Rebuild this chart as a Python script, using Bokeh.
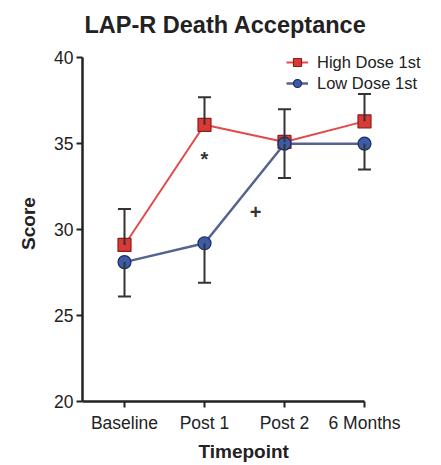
from bokeh.plotting import figure
from bokeh.models import (ColumnDataSource, Whisker, TeeHead, Legend, LegendItem,
                          FixedTicker, Range1d, Title)
from bokeh.embed import file_html
from bokeh.resources import INLINE

# Timepoints and group means / SEM on the LAP-R Death Acceptance subscale
timepoints = ["Baseline", "Post 1", "Post 2", "6 Months"]
high_dose_first = [29.1, 36.1, 35.1, 36.3]
high_dose_sem = [2.1, 1.6, 1.9, 1.6]
low_dose_first = [28.1, 29.2, 35.0, 35.0]
low_dose_sem = [2.0, 2.3, 2.0, 1.5]
y_ticks = [20, 25, 30, 35, 40]

# Significance marks: symbol, timepoint position, score
sig_symbols = ["*", "+"]
sig_x = [1.0, 1.64]
sig_y = [34.1, 31.0]

FONT = "Liberation Sans"
INK = "#222222"
RED_FILL, RED_EDGE, RED_LINE = "#d93a36", "#8e1c1c", "#e24a4a"
BLUE_FILL, BLUE_EDGE, BLUE_LINE = "#3d5ca6", "#1d2a5c", "#55638f"

xs = list(range(len(timepoints)))

high_src = ColumnDataSource(dict(
    x=xs, y=high_dose_first,
    top=[v + e for v, e in zip(high_dose_first, high_dose_sem)]))
low_src = ColumnDataSource(dict(
    x=xs, y=low_dose_first,
    bottom=[v - e for v, e in zip(low_dose_first, low_dose_sem)]))

p = figure(width=441, height=465, output_backend="svg", toolbar_location=None,
           x_range=Range1d(-0.525, 3.7125), y_range=Range1d(19.98, 40.72),
           min_border_left=82, min_border_right=20,
           min_border_top=45, min_border_bottom=64)
p.outline_line_color = None
p.grid.visible = False
p.background_fill_color = "white"
p.border_fill_color = "white"

# Title, left-aligned over the frame and nudged to sit above the axes
p.title.text = "LAP-R Death Acceptance"
p.title.align = "left"
p.title.offset = 2
p.title.standoff = 16
p.title.text_font = FONT
p.title.text_font_style = "bold"
p.title.text_font_size = "23.5px"
p.title.text_color = INK

# Axes
for ax in (p.xaxis[0], p.yaxis[0]):
    ax.axis_line_width = 2.5
    ax.axis_line_color = INK
    ax.major_tick_line_width = 2
    ax.major_tick_line_color = INK
    ax.major_tick_in = 0
    ax.major_tick_out = 6
    ax.minor_tick_line_color = None
    ax.major_label_text_font = FONT
    ax.major_label_text_font_size = "17.5px"
    ax.major_label_text_color = INK

p.xaxis.bounds = (-0.525, 3)
p.xaxis.ticker = FixedTicker(ticks=xs)
p.xaxis.major_label_overrides = {i: t for i, t in enumerate(timepoints)}
p.xaxis.major_label_standoff = 5

p.yaxis.bounds = (19.98, 40)
p.yaxis.ticker = FixedTicker(ticks=y_ticks)
p.yaxis.major_label_standoff = 3
p.yaxis.axis_label = "Score"
p.yaxis.axis_label_text_font = FONT
p.yaxis.axis_label_text_font_style = "bold"
p.yaxis.axis_label_text_font_size = "19px"
p.yaxis.axis_label_text_color = INK
p.yaxis.axis_label_standoff = 12

# X-axis caption centred under the timepoint ticks
p.add_layout(Title(text="Timepoint", align="left", offset=116, standoff=7,
                   text_font=FONT, text_font_style="bold",
                   text_font_size="19px", text_color=INK), "below")

# Error bars: upper arm for high-dose group, lower arm for low-dose group
p.add_layout(Whisker(source=high_src, base="x", lower="y", upper="top",
                     line_color="#333333", line_width=2,
                     upper_head=TeeHead(size=13, line_color="#333333", line_width=2),
                     lower_head=None, level="glyph"))
p.add_layout(Whisker(source=low_src, base="x", lower="bottom", upper="y",
                     line_color="#333333", line_width=2,
                     lower_head=TeeHead(size=13, line_color="#333333", line_width=2),
                     upper_head=None, level="glyph"))

# Series
hl = p.line("x", "y", source=high_src, line_color=RED_LINE, line_width=2)
hs = p.scatter("x", "y", source=high_src, marker="square", size=13,
               fill_color=RED_FILL, line_color=RED_EDGE, line_width=1.2)
ll = p.line("x", "y", source=low_src, line_color=BLUE_LINE, line_width=2.5)
ls = p.scatter("x", "y", source=low_src, marker="circle", size=13,
               fill_color=BLUE_FILL, line_color=BLUE_EDGE, line_width=1.2)

# Significance symbols
p.text(x=sig_x, y=sig_y, text=sig_symbols, text_align="center",
       text_baseline="middle", text_font_size="20px", text_font_style="bold",
       text_color="#333333", text_font={"value": FONT})

legend = Legend(items=[LegendItem(label="High Dose 1st", renderers=[hl, hs]),
                       LegendItem(label="Low Dose 1st", renderers=[ll, ls])],
                location=(204, 308), padding=0, margin=0, spacing=1,
                glyph_width=22, glyph_height=20, label_height=20,
                label_standoff=9, label_text_font=FONT,
                label_text_font_size="16.5px", label_text_color=INK,
                border_line_color=None, background_fill_alpha=0)
p.add_layout(legend)

open("out.html", "w").write(file_html(p, INLINE))
